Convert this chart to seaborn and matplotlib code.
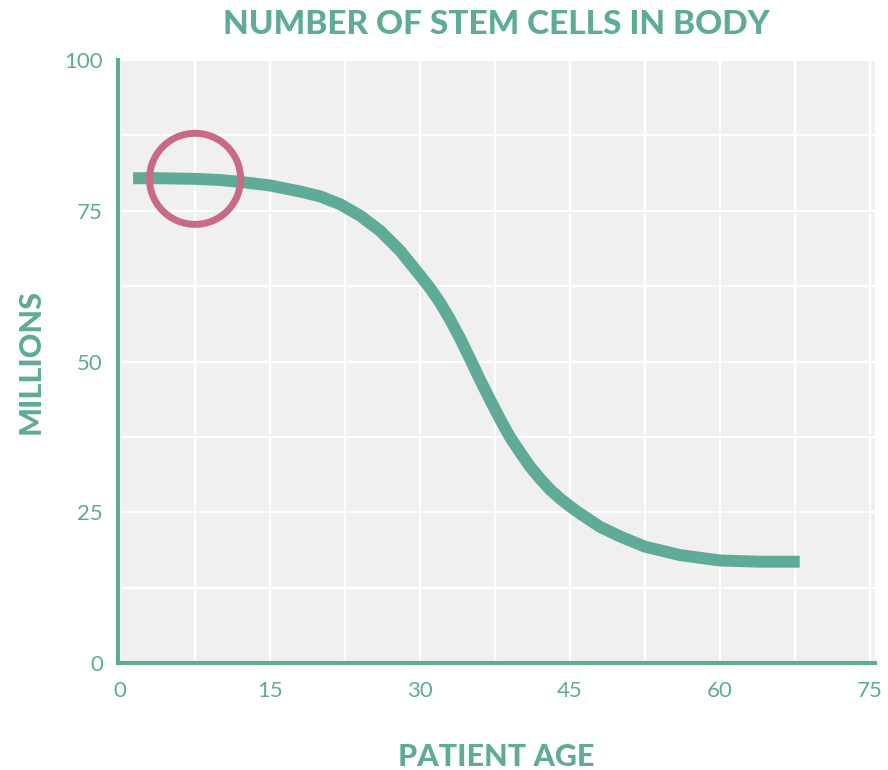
import matplotlib.pyplot as plt
import matplotlib.ticker as mticker
import pandas as pd
import seaborn as sns

# curve
age = [1.3, 4, 7.5, 10, 12, 15, 18, 20, 22, 24, 26, 28, 30, 31, 32, 33, 34,
       35, 36, 37, 38, 39, 40, 41, 42, 43, 44, 45, 46, 48, 50, 52.5, 56, 60,
       64, 68]
millions = [80.4, 80.4, 80.3, 80.1, 79.8, 79.2, 78.2, 77.4, 76.1, 74.2, 71.7,
            68.4, 64.3, 62.2, 59.8, 57.0, 53.9, 50.5, 47.0, 43.7, 40.5, 37.5,
            35.0, 32.6, 30.6, 28.8, 27.3, 26.0, 24.8, 22.6, 21.0, 19.3, 17.9,
            17.0, 16.8, 16.8]
highlight_age = [7.5]
highlight_millions = [80.3]
x_ticks = [0, 15, 30, 45, 60, 75]
y_ticks = [0, 25, 50, 75, 100]

teal = '#5fab97'
pink = '#c96b84'

sns.set_theme(style='whitegrid', rc={'axes.facecolor': '#f0f0f0',
                                      'grid.color': 'white',
                                      'grid.linewidth': 1.6})
plt.rcParams['font.family'] = ['Lato', 'DejaVu Sans']

df = pd.DataFrame({'age': age, 'millions': millions})

fig = plt.figure(figsize=(8.88, 7.7), dpi=100)
ax = fig.add_axes([0.133, 0.139, 0.852, 0.783])

sns.lineplot(data=df, x='age', y='millions', ax=ax, color=teal, linewidth=8.6,
             solid_capstyle='butt', solid_joinstyle='round', zorder=3)
sns.scatterplot(x=highlight_age, y=highlight_millions, ax=ax, s=4300,
                facecolor='none', edgecolor=pink, linewidth=5, zorder=4)

ax.set_xlim(-0.2, 75.5)
ax.set_ylim(0, 100)
ax.set_xticks(x_ticks)
ax.set_yticks(y_ticks)
ax.xaxis.set_minor_locator(mticker.MultipleLocator(7.5))
ax.yaxis.set_minor_locator(mticker.MultipleLocator(12.5))
ax.grid(True, which='both', color='white', linewidth=1.6)
ax.tick_params(axis='both', which='both', length=0, labelcolor=teal,
               labelsize=16)
ax.tick_params(axis='x', pad=13)
ax.tick_params(axis='y', pad=11)

for side in ['top', 'right']:
    ax.spines[side].set_visible(False)
for side in ['left', 'bottom']:
    ax.spines[side].set_color(teal)
    ax.spines[side].set_linewidth(3)

ax.set_xlabel('PATIENT AGE', color=teal, fontsize=22, fontweight='black',
              labelpad=30)
ax.set_ylabel('MILLIONS', color=teal, fontsize=22, fontweight='black',
              labelpad=14)
ax.set_title('NUMBER OF STEM CELLS IN BODY', color=teal, fontsize=24,
             fontweight='black', pad=19)

fig.savefig('out.png', dpi=100)
